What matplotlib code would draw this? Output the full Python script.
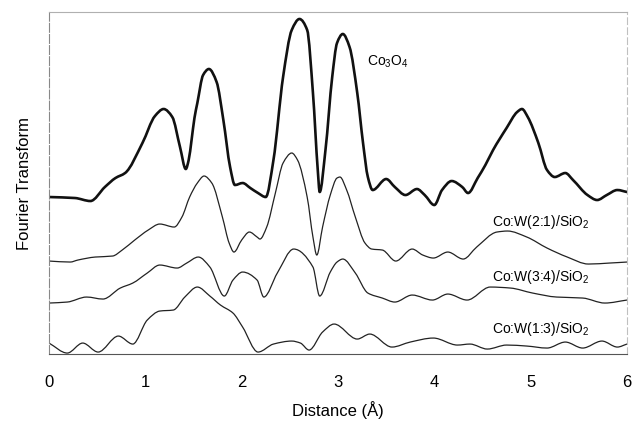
import numpy as np
import matplotlib
matplotlib.use('Agg')
from matplotlib import pyplot as plt
from matplotlib.path import Path
from matplotlib.patches import PathPatch

plt.rcParams['font.family'] = ['Liberation Sans', 'DejaVu Sans']
plt.rcParams['mathtext.fontset'] = 'custom'
plt.rcParams['mathtext.rm'] = 'Liberation Sans'
plt.rcParams['mathtext.it'] = 'Liberation Sans:italic'

# Co3O4 reference (bold curve)
co3o4_r = [0.00, 0.27, 0.43, 0.58, 0.69, 0.79, 0.97, 1.10, 1.19, 1.28, 1.36, 1.42,
           1.45, 1.48, 1.51, 1.54, 1.60, 1.66, 1.74, 1.81, 1.88, 1.93, 2.01, 2.09,
           2.17, 2.25, 2.33, 2.43, 2.52, 2.60, 2.68, 2.74, 2.79, 2.81, 2.87,
           2.94, 2.99, 3.05, 3.12, 3.20, 3.26, 3.31, 3.36, 3.50, 3.59, 3.70, 3.82,
           3.90, 4.00, 4.08, 4.18, 4.29, 4.35, 4.45, 4.53, 4.61, 4.75, 4.86, 4.91,
           4.97, 5.08, 5.17, 5.25, 5.36, 5.44, 5.59, 5.69, 5.79, 5.90, 6.00]
co3o4_ft = [1.57, 1.56, 1.53, 1.67, 1.76, 1.81, 2.11, 2.38, 2.45, 2.37, 2.07, 1.85,
            1.94, 2.14, 2.36, 2.51, 2.79, 2.85, 2.72, 2.34, 1.87, 1.69, 1.71, 1.66,
            1.61, 1.57, 1.94, 2.77, 3.24, 3.35, 3.24, 2.61, 1.84, 1.62, 2.04,
            2.77, 3.11, 3.20, 3.07, 2.61, 2.11, 1.77, 1.64, 1.75, 1.67, 1.59, 1.65,
            1.59, 1.49, 1.64, 1.73, 1.67, 1.61, 1.76, 1.89, 2.04, 2.26, 2.42, 2.45,
            2.37, 2.11, 1.84, 1.77, 1.81, 1.74, 1.59, 1.54, 1.59, 1.64, 1.62]

# Co:W(2:1)/SiO2
cow21_r = [0.00, 0.22, 0.30, 0.48, 0.66, 0.76, 0.89, 1.03, 1.15, 1.30, 1.38, 1.46,
           1.54, 1.61, 1.69, 1.80, 1.87, 1.92, 2.00, 2.08, 2.16, 2.19, 2.26, 2.35,
           2.43, 2.52, 2.58, 2.68, 2.74, 2.78, 2.84, 2.92, 2.99, 3.02, 3.09, 3.18,
           3.28, 3.35, 3.46, 3.60, 3.77, 3.88, 3.99, 4.14, 4.30, 4.44, 4.65, 4.76,
           4.96, 5.17, 5.38, 5.60, 5.82, 6.00]
cow21_ft = [0.93, 0.92, 0.94, 0.97, 0.98, 1.04, 1.14, 1.24, 1.30, 1.27, 1.37, 1.57,
            1.71, 1.78, 1.71, 1.37, 1.11, 1.02, 1.14, 1.22, 1.17, 1.15, 1.27, 1.61,
            1.91, 2.01, 1.94, 1.57, 1.17, 0.99, 1.27, 1.59, 1.76, 1.77, 1.64, 1.37,
            1.11, 1.05, 1.04, 0.93, 1.05, 0.99, 0.96, 1.02, 0.95, 1.07, 1.22, 1.23,
            1.17, 1.06, 0.97, 0.90, 0.91, 0.92]

# Co:W(3:4)/SiO2
cow34_r = [0.00, 0.19, 0.39, 0.56, 0.74, 0.87, 1.02, 1.15, 1.33, 1.43, 1.55, 1.67,
           1.82, 1.91, 2.01, 2.16, 2.23, 2.37, 2.54, 2.74, 2.81, 2.92, 2.99, 3.05,
           3.18, 3.31, 3.46, 3.59, 3.77, 3.98, 4.14, 4.34, 4.58, 4.79, 5.02, 5.27,
           5.54, 5.77, 6.00]
cow34_ft = [0.51, 0.52, 0.57, 0.55, 0.66, 0.71, 0.81, 0.89, 0.86, 0.91, 0.97, 0.87,
            0.58, 0.74, 0.82, 0.74, 0.57, 0.81, 1.05, 0.87, 0.58, 0.82, 0.92, 0.95,
            0.81, 0.61, 0.56, 0.52, 0.59, 0.54, 0.60, 0.54, 0.67, 0.66, 0.61, 0.57,
            0.56, 0.51, 0.54]

# Co:W(1:3)/SiO2
cow13_r = [0.00, 0.19, 0.35, 0.51, 0.72, 0.87, 1.02, 1.15, 1.29, 1.41, 1.54, 1.67,
           1.78, 1.91, 2.01, 2.17, 2.33, 2.52, 2.61, 2.70, 2.84, 2.96, 3.20, 3.33,
           3.56, 3.75, 3.99, 4.24, 4.37, 4.55, 4.75, 4.96, 5.17, 5.36, 5.54, 5.74,
           5.90, 6.00]
cow13_ft = [0.11, 0.01, 0.11, 0.02, 0.18, 0.10, 0.34, 0.43, 0.44, 0.57, 0.67, 0.58,
            0.49, 0.41, 0.27, 0.02, 0.10, 0.13, 0.11, 0.04, 0.22, 0.30, 0.15, 0.20,
            0.07, 0.12, 0.16, 0.09, 0.10, 0.05, 0.09, 0.08, 0.06, 0.12, 0.06, 0.13,
            0.07, 0.10]

labels = ['Co$_3$O$_4$', 'Co:W(2:1)/SiO$_2$', 'Co:W(3:4)/SiO$_2$', 'Co:W(1:3)/SiO$_2$']


def smooth_line(ax, x, y, **kw):
    # join the read points with cubic Bezier segments, shape-preserving tangents
    x = np.asarray(x, float)
    y = np.asarray(y, float)
    h = np.diff(x)
    d = np.diff(y) / h
    m = np.zeros_like(y)
    m[0], m[-1] = d[0], d[-1]
    for k in range(1, len(x) - 1):
        if d[k - 1] * d[k] > 0:
            w1 = 2 * h[k] + h[k - 1]
            w2 = h[k] + 2 * h[k - 1]
            m[k] = (w1 + w2) / (w1 / d[k - 1] + w2 / d[k])
    verts = [(x[0], y[0])]
    codes = [Path.MOVETO]
    for i in range(len(x) - 1):
        s = h[i] / 3.0
        verts += [(x[i] + s, y[i] + m[i] * s),
                  (x[i + 1] - s, y[i + 1] - m[i + 1] * s),
                  (x[i + 1], y[i + 1])]
        codes += [Path.CURVE4] * 3
    ax.add_patch(PathPatch(Path(verts, codes), facecolor='none',
                           capstyle='round', joinstyle='round', **kw))


fig = plt.figure(figsize=(6.33, 4.22), dpi=100, facecolor='w')
ax = fig.add_axes([0.0774, 0.161, 0.9131, 0.8106])

smooth_line(ax, co3o4_r, co3o4_ft, edgecolor='#111111', lw=1.9)
smooth_line(ax, cow21_r, cow21_ft, edgecolor='#222222', lw=0.9)
smooth_line(ax, cow34_r, cow34_ft, edgecolor='#222222', lw=0.9)
smooth_line(ax, cow13_r, cow13_ft, edgecolor='#222222', lw=0.9)

ax.text(3.30, 2.92, labels[0], fontsize=10, va='center', ha='left')
ax.text(4.60, 1.32, labels[1], fontsize=10, va='center', ha='left')
ax.text(4.60, 0.77, labels[2], fontsize=10, va='center', ha='left')
ax.text(4.60, 0.25, labels[3], fontsize=10, va='center', ha='left')

ax.set_xlim(0, 6)
ax.set_ylim(0, 3.42)
ax.set_xticks([0, 1, 2, 3, 4, 5, 6])
ax.set_yticks([])
ax.tick_params(axis='x', length=0, pad=15, labelsize=12)
ax.set_xlabel('Distance (Å)', fontsize=12, labelpad=8)
ax.set_ylabel('Fourier Transform', fontsize=12, labelpad=12)

ax.spines['bottom'].set_color('#555555')
ax.spines['left'].set_color('#888888')
ax.spines['top'].set_color('#b0b0b0')
ax.spines['right'].set_color('#c0c0c0')
ax.spines['right'].set_linestyle((0, (6, 3)))
ax.spines['left'].set_linestyle((0, (8, 2)))

plt.savefig('out.png', dpi=100)
